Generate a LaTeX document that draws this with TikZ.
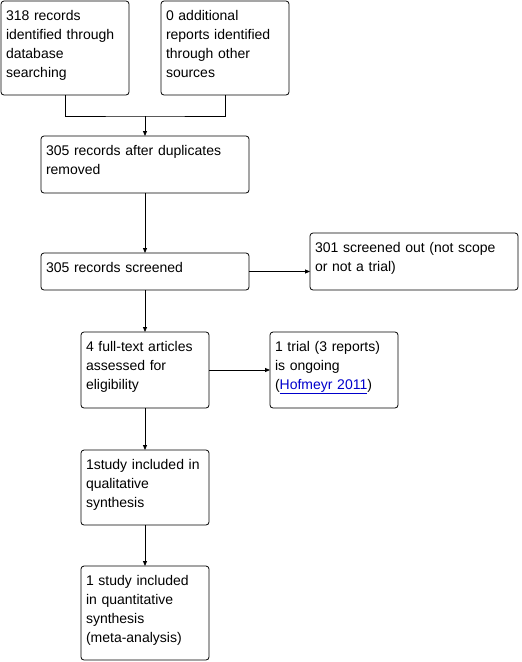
\documentclass[tikz,border=0pt]{standalone}
\usepackage{fontspec}
\setmainfont{Liberation Sans}
\usetikzlibrary{positioning,calc,arrows.meta}
\definecolor{linkblue}{RGB}{0,0,204}

\begin{document}
\begin{tikzpicture}[x=1pt,y=1pt,line width=0.8pt,>={Triangle[length=5pt,width=4pt]},
		box/.style={draw,rounded corners=3pt,anchor=north west,inner xsep=5pt,inner ysep=0pt,outer sep=0pt,
			align=left,text height=19pt,font=\fontsize{14}{19}\selectfont},
		narrow/.style={box,text width=118pt},
		wide/.style={box,text width=198pt}]
		\useasboundingbox (0,0) rectangle (522,-662);

		\node[narrow, text depth=75pt] (rec) at (1,-1) {318 records\\identified through\\database\\searching};
		\node[narrow, text depth=75pt] (oth) [right=32pt of rec] {0 additional\\reports identified\\through other\\sources};

		\coordinate (mid) at ($(rec.south)!0.5!(oth.south)$);
		\node[wide, text depth=38pt] (dup) [below=41pt of mid] {305 records after duplicates\\removed};
		\coordinate[above=20pt of dup] (j);

		\node[wide, text depth=18pt] (scr) [below=60pt of dup] {305 records screened};
		\node[wide, text depth=38pt] (out) [right=61pt of scr.south east, anchor=south west] {301 screened out (not scope\\or not a trial)};

		\node[narrow, text depth=57pt] (full) [below=42pt of scr] {4 full-text articles\\assessed for\\eligibility};
		\node[narrow, text depth=57pt] (ongo) [right=61pt of full] {1 trial (3 reports)\\is ongoing\\(\textcolor{linkblue}{\underline{Hofmeyr 2011}})};

		\node[narrow, text depth=56pt] (qual) [below=42pt of full] {1study included in\\qualitative\\synthesis};
		\node[narrow, text depth=75pt] (quan) [below=41pt of qual] {1 study included\\in quantitative\\synthesis\\(meta-analysis)};

		\draw (rec) |- (j) -| (oth);
		\path[->]
		(j) edge (dup)
		(dup) edge (scr)
		(scr) edge (scr.east -| out.west)
			  edge (full)
		(full) edge (ongo)
			   edge (qual)
		(qual) edge (quan);
	\end{tikzpicture}
\end{document}
